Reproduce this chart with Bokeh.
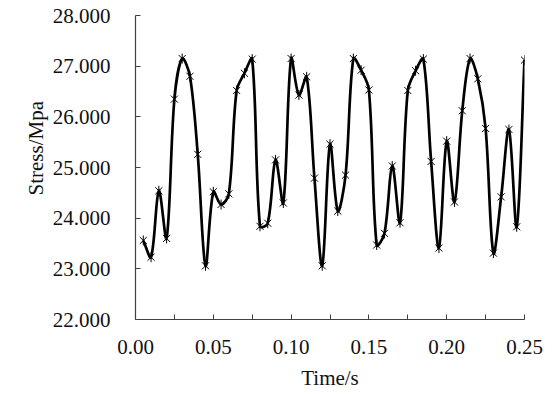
import math
from bokeh.plotting import figure
from bokeh.models import Range1d, FixedTicker, PrintfTickFormatter, Title
from bokeh.embed import file_html
from bokeh.resources import INLINE

# ---- data ----
time_s = [0.005, 0.010, 0.015, 0.020, 0.025, 0.030, 0.035, 0.040, 0.045, 0.050,
          0.055, 0.060, 0.065, 0.070, 0.075, 0.080, 0.085, 0.090, 0.095, 0.100,
          0.105, 0.110, 0.115, 0.120, 0.125, 0.130, 0.135, 0.140, 0.145, 0.150,
          0.155, 0.160, 0.165, 0.170, 0.175, 0.180, 0.185, 0.190, 0.195, 0.200,
          0.205, 0.210, 0.215, 0.220, 0.225, 0.230, 0.235, 0.240, 0.245, 0.250]
stress = [23.56, 23.23, 24.54, 23.60, 26.35, 27.15, 26.80, 25.26, 23.06, 24.52,
          24.27, 24.48, 26.52, 26.86, 27.14, 23.84, 23.90, 25.15, 24.30, 27.15,
          26.43, 26.79, 24.79, 23.06, 25.46, 24.14, 24.85, 27.15, 26.92, 26.53,
          23.47, 23.70, 25.03, 23.91, 26.52, 26.91, 27.14, 25.12, 23.41, 25.52,
          24.32, 26.12, 27.15, 26.75, 25.77, 23.31, 24.42, 25.75, 23.83, 27.12]
x_major = [0.00, 0.05, 0.10, 0.15, 0.20, 0.25]
x_minor = [0.025, 0.075, 0.125, 0.175, 0.225]
y_ticks = [22, 23, 24, 25, 26, 27, 28]
x_title = "Time/s"
y_title = "Stress/Mpa"

FONT = "Liberation Serif"
TXT = "#111111"
AX = "#404040"
X0, X1, Y0, Y1 = 0, 0.25, 22, 28

p = figure(width=546, height=392, output_backend="svg", toolbar_location=None,
           x_range=Range1d(X0, X1), y_range=Range1d(Y0, Y1),
           min_border_left=135, min_border_right=22, min_border_top=15,
           min_border_bottom=70)
p.outline_line_color = None
p.xgrid.visible = False
p.ygrid.visible = False

# smoothed line drawn as cubic Bezier segments; control arms weighted by
# neighbouring segment lengths measured on screen (spreadsheet-style smoothing)
PX_X = 389 / (X1 - X0)
PX_Y = 307 / (Y1 - Y0)

def dist(i, j):
    return math.hypot((time_s[j] - time_s[i]) * PX_X, (stress[j] - stress[i]) * PX_Y)

n = len(time_s)
T = 1 / 3
x0, y0, x1, y1, cx0, cy0, cx1, cy1 = [], [], [], [], [], [], [], []
for i in range(n - 1):
    pm = max(i - 1, 0)
    pp = min(i + 2, n - 1)
    d01 = dist(pm, i)
    d12 = dist(i, i + 1)
    d23 = dist(i + 1, pp)
    f0 = T * d12 / (d01 + d12) if d01 + d12 > 0 else 0
    f1 = T * d12 / (d12 + d23) if d12 + d23 > 0 else 0
    x0.append(time_s[i]); y0.append(stress[i])
    x1.append(time_s[i + 1]); y1.append(stress[i + 1])
    cx0.append(time_s[i] + (time_s[i + 1] - time_s[pm]) * f0)
    cy0.append(stress[i] + (stress[i + 1] - stress[pm]) * f0)
    cx1.append(time_s[i + 1] - (time_s[pp] - time_s[i]) * f1)
    cy1.append(stress[i + 1] - (stress[pp] - stress[i]) * f1)
p.bezier(x0=x0, y0=y0, x1=x1, y1=y1, cx0=cx0, cy0=cy0, cx1=cx1, cy1=cy1,
         line_color="black", line_width=2.7)
# star marker: an x with a vertical bar
p.scatter(time_s, stress, marker="x", size=10, line_color="black", line_width=1)
p.scatter(time_s, stress, marker="dash", angle=math.pi / 2, size=10,
          line_color="black", line_width=1)

for ax in (p.xaxis[0], p.yaxis[0]):
    ax.axis_line_color = AX
    ax.axis_line_width = 1.2
    ax.major_tick_line_color = AX
    ax.minor_tick_line_color = AX
    ax.major_tick_in = 5
    ax.major_tick_out = 0
    ax.minor_tick_in = 5
    ax.minor_tick_out = 0
    ax.major_label_text_font = FONT
    ax.major_label_text_font_size = "21px"
    ax.major_label_text_color = TXT
    ax.axis_label_text_font = FONT
    ax.axis_label_text_font_size = "21px"
    ax.axis_label_text_font_style = "normal"
    ax.axis_label_text_color = TXT

p.xaxis[0].ticker = FixedTicker(ticks=x_major, minor_ticks=x_minor)
p.xaxis[0].formatter = PrintfTickFormatter(format="%.2f")
p.xaxis[0].major_label_standoff = 20
p.xaxis[0].axis_label = x_title
p.xaxis[0].axis_label_standoff = 9
p.yaxis[0].ticker = FixedTicker(ticks=y_ticks, minor_ticks=[])
p.yaxis[0].formatter = PrintfTickFormatter(format="%.3f")
p.yaxis[0].major_label_standoff = 25

p.add_layout(Title(text=y_title, align="left", offset=124, vertical_align="top",
                   standoff=0, text_font=FONT, text_font_size="21px",
                   text_font_style="normal", text_color=TXT), "left")

open("out.html", "w").write(file_html(p, INLINE))
